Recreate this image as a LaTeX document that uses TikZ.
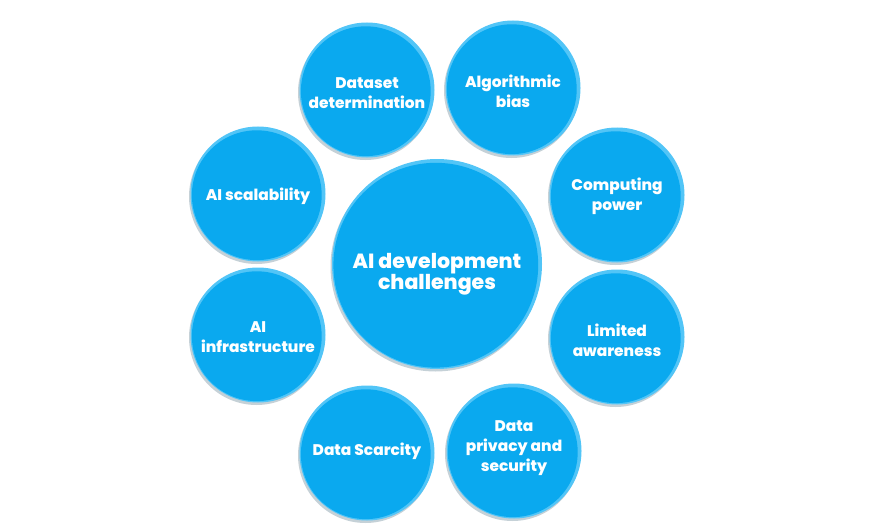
\documentclass[tikz,border=0pt]{standalone}
\usepackage{fontspec}
\setmainfont{Poppins}[BoldFont={Poppins ExtraBold}]
\definecolor{bubfill}{HTML}{0AA9EF}
\definecolor{bubrim}{HTML}{52C5F7}
\definecolor{bubshadow}{HTML}{7F98A6}
\tikzset{
  bub/.style={circle, inner sep=0pt, minimum size=#1, text=white, align=center},
  smalltxt/.style={font=\fontsize{15.4}{20}\selectfont\bfseries},
  bigtxt/.style={font=\fontsize{20.5}{21}\selectfont\bfseries},
}
\newcommand{\bubdeco}[2]{%
  \fill[bubshadow, opacity=0.45] ([xshift=-1.5pt,yshift=-2.5pt]#1.center) circle (#2);
  \fill[bubrim] (#1.center) circle (#2);
  \fill[bubfill] ([xshift=-1.2pt,yshift=-1.2pt]#1.center) circle ({#2-2.6});
}
\begin{document}
\begin{tikzpicture}[x=1pt,y=-1pt]
\useasboundingbox (0,0) rectangle (875,532);
\node[bub=210pt] (center) at (437,264) {};
\node[bub=135pt] (dataset) at (367,90) {};
\node[bub=135pt] (algo) at (513,88) {};
\node[bub=135pt] (compute) at (617,195) {};
\node[bub=135pt] (aware) at (617,337) {};
\node[bub=135pt] (privacy) at (514,451) {};
\node[bub=135pt] (scarcity) at (367,453) {};
\node[bub=135pt] (infra) at (258,335) {};
\node[bub=135pt] (scal) at (258,194) {};
\bubdeco{center}{105}
\bubdeco{dataset}{67.5}
\bubdeco{algo}{67.5}
\bubdeco{compute}{67.5}
\bubdeco{aware}{67.5}
\bubdeco{privacy}{67.5}
\bubdeco{scarcity}{67.5}
\bubdeco{infra}{67.5}
\bubdeco{scal}{67.5}
\node[bigtxt, text=white, align=center] (centertxt) at (437,274) {AI development\\challenges};
\node[smalltxt, text=white, align=center] (datasettxt) at (367,93) {Dataset\\determination};
\node[smalltxt, text=white, align=center] (algotxt) at (513,91) {Algorithmic\\bias};
\node[smalltxt, text=white, align=center] (computetxt) at (617,196) {Computing\\power};
\node[smalltxt, text=white, align=center] (awaretxt) at (617,340) {Limited\\awareness};
\node[smalltxt, text=white, align=center] (privacytxt) at (514,448) {Data\\privacy and\\security};
\node[smalltxt, text=white, align=center] (scarcitytxt) at (367,451) {Data Scarcity};
\node[smalltxt, text=white, align=center] (infratxt) at (258,337) {AI\\infrastructure};
\node[smalltxt, text=white, align=center] (scaltxt) at (258,196) {AI scalability};
\end{tikzpicture}
\end{document}
